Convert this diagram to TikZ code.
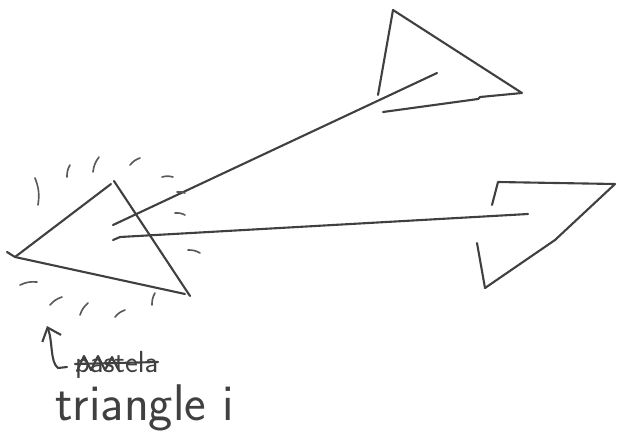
\documentclass[tikz,border=0pt]{standalone}
\usepackage{tikz}
\usetikzlibrary{arrows.meta}

\begin{document}
\begin{tikzpicture}[x=0.03cm, y=-0.03cm,
    pen/.style={draw=black!75, line width=1.8pt, line cap=round, line join=round},
    tick/.style={draw=black!65, line width=1.4pt, line cap=round},
    note/.style={font=\sffamily, text=black!75, inner sep=0pt, anchor=base west}]
  \useasboundingbox (0,0) rectangle (617,440);

  % triangle i (left)
  \coordinate (tip) at (15,257);
  \coordinate (top) at (111,184);
  \coordinate (bot) at (185,294);
  \draw[pen] (7,252) -- (tip) -- (top);
  \draw[pen] (114,181) -- (190,296);
  \draw[pen] (tip) -- (bot);

  % the two long strokes
  \draw[pen] (113,225) -- (437,73);
  \draw[pen] (113,240) -- (120,237) -- (528,214);

  % upper right triangle
  \draw[pen] (378,95) -- (393,10) -- (522,93) -- (480,97) -- (478,99) -- (383,112);

  % right shape
  \draw[pen] (492,205) -- (498,182) -- (615,184) -- (555,240) -- (485,288) -- (477,243);

  % glow ticks round triangle i
  \foreach \a/\b/\c/\d in {35/178/38/205, 67/177/70/165, 93/172/99/157,
      130/165/140/158, 162/177/173/177, 177/192/185/193, 175/213/185/215,
      188/250/200/253, 152/305/155/293, 115/317/125/310, 80/315/88/303,
      50/305/62/297, 20/285/37/282}
    \draw[tick] (\a,\b) to[bend left=15] (\c,\d);

  % note
  \draw[pen, -{Straight Barb[length=3.5mm, width=6mm]}]
      (67,367) -- (58,368) .. controls (50,362) and (53,342) .. (47,326);
  \node[note, font=\sffamily\fontsize{26}{28}\selectfont] (struck) at (75,372) {pastela};
  \draw[pen] (75,364) -- (158,362);
  \draw[pen] (77,371) -- (84,356) -- (91,370) -- (98,356) -- (105,370) -- (112,357) -- (118,369);
  \node[note, font=\sffamily\fontsize{44}{46}\selectfont] (label) at (55,420) {triangle i};
\end{tikzpicture}
\end{document}
